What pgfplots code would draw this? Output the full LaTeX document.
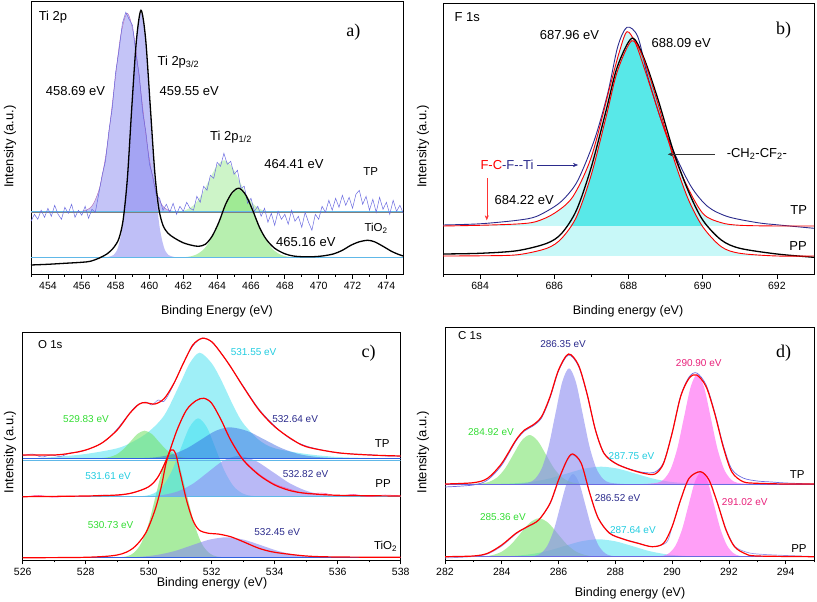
\documentclass[border=0pt]{standalone}
\usepackage{fontspec}
\setmainfont{Liberation Sans}
\newfontfamily\serifpanel{Liberation Serif}
\usepackage{pgfplots}
\pgfplotsset{compat=1.18}
\usetikzlibrary{arrows.meta}

\definecolor{tpline}{HTML}{6A6AE0}
\definecolor{lav}{HTML}{8A8AF0}
\definecolor{grn}{HTML}{70E060}
\definecolor{navy2}{HTML}{2B2B8C}
\definecolor{cyl}{HTML}{C8F8F8}
\definecolor{cys}{HTML}{58E8E8}
\definecolor{lblgreen}{HTML}{33DD33}
\definecolor{lblcyan}{HTML}{22CCE0}
\definecolor{lblpink}{HTML}{E8207A}
\definecolor{pinkfill}{HTML}{FF50F0}
\definecolor{cyanfill}{HTML}{40E0F0}
\definecolor{bluefill}{HTML}{3060E0}
\definecolor{basecyan}{HTML}{60B8E8}

\newcommand{\fL}{\fontsize{13}{15}\selectfont}
\newcommand{\fM}{\fontsize{11.5}{13}\selectfont}
\newcommand{\fS}{\fontsize{10}{12}\selectfont}
\newcommand{\fP}{\fontsize{18}{20}\selectfont\serifpanel}

\pgfplotsset{
  xps/.style={
    scale only axis, anchor=south west, no markers,
    ytick=\empty, xtick distance=2, minor x tick num=1,
    tick align=outside, xtick pos=bottom,
    major tick length=4.5pt, minor tick length=2.5pt,
    tick style={black, line width=0.7pt},
    axis line style={line width=0.8pt},
    ticklabel style={font=\fontsize{10.5}{12}\selectfont},
    /pgf/number format/assume math mode=true,
    every axis plot/.append style={smooth},
  },
}

\begin{document}
\begin{tikzpicture}
\useasboundingbox (0pt,0pt) rectangle (817pt,602pt);

% ---------- a) Ti 2p ----------
\begin{axis}[xps, at={(31pt,327.7pt)}, width=372.3pt, height=272.6pt,
  xmin=453, xmax=475, ymin=0, ymax=272.6]
% TiO2 components
\addplot[fill=lav, fill opacity=0.55, draw=none] coordinates {(457.34,16.7)(457.88,19.3)(458.15,27.4)(458.42,49.7)(458.69,96.2)(458.96,165.2)(459.23,232.8)(459.5,261.6)(459.77,232.8)(460.04,165.2)(460.31,96.2)(460.58,49.7)(460.85,27.4)(461.12,19.3)(461.66,16.7)} -- cycle;
\addplot[fill=grn, fill opacity=0.5, draw=none] coordinates {(461.5,16.6)(462.25,17.4)(462.75,19.6)(463.25,25.8)(463.75,38.7)(464.25,57.8)(464.75,76.6)(465.25,84.6)(465.75,76.6)(466.25,57.8)(466.75,38.7)(467.25,25.8)(467.75,19.6)(468.25,17.4)(469.0,16.6)} -- cycle;
% TP components
\addplot[fill=lav, fill opacity=0.5, draw=violet!60, thin] coordinates {(455.49,62)(456.29,64.2)(456.69,70.7)(457.09,88.9)(457.49,126.6)(457.89,182.7)(458.29,237.6)(458.69,261)(459.09,237.6)(459.49,182.7)(459.89,126.6)(460.29,88.9)(460.69,70.7)(461.09,64.2)(461.89,62)} -- cycle;
\addplot[fill=grn, fill opacity=0.35, draw=none] coordinates {(460.81,62)(461.71,62.6)(462.16,64.3)(462.61,69.0)(463.06,78.9)(463.51,93.5)(463.96,107.9)(464.41,114)(464.86,107.9)(465.31,93.5)(465.76,78.9)(466.21,69.0)(466.66,64.3)(467.11,62.6)(468.01,62)} -- cycle;
% baselines
\addplot[sharp plot, gray, line width=0.9pt] coordinates {(453,62)(475,62)};
\addplot[sharp plot, basecyan, line width=0.5pt] coordinates {(453,62.8)(475,62.8)};
\addplot[sharp plot, basecyan, line width=1pt] coordinates {(453,16.6)(475,16.6)};
% TP data
\addplot[sharp plot, tpline, line width=0.5pt] coordinates {(453.0,53)(453.2,60)(453.4,55)(453.6,64)(453.8,57)(454.0,66)(454.2,58)(454.4,69)(454.6,60)(454.8,55)(455.0,67)(455.2,61)(455.4,70)(455.6,57)(455.8,64)(456.0,59)(456.2,68)(456.4,56)(456.6,65)(456.8,62)(457.0,80)(457.2,99)(457.4,113)(457.6,143)(457.8,166)(458.0,202)(458.2,224)(458.4,251)(458.6,262)(458.8,255)(459.0,249)(459.2,220)(459.4,199)(459.6,162)(459.8,141)(460.0,110)(460.2,98)(460.4,79)(460.6,76)(460.8,64)(461.0,70)(461.2,62)(461.4,71)(461.6,60)(461.8,68)(462.0,63)(462.2,72)(462.4,66)(462.6,64)(462.8,78)(463.0,72)(463.2,88)(463.4,84)(463.6,99)(463.8,96)(464.0,112)(464.2,108)(464.4,121)(464.6,110)(464.8,113)(465.0,100)(465.2,104)(465.4,86)(465.6,88)(465.8,71)(466.0,76)(466.2,63)(466.4,68)(466.6,58)(466.8,66)(467.0,52)(467.2,61)(467.4,49)(467.6,63)(467.8,55)(468.0,60)(468.2,50)(468.4,64)(468.6,53)(468.8,58)(469.0,47)(469.2,62)(469.4,52)(469.6,44)(469.8,60)(470.0,55)(470.2,68)(470.4,62)(470.6,74)(470.8,64)(471.0,76)(471.2,67)(471.4,79)(471.6,69)(471.8,77)(472.0,66)(472.2,80)(472.4,84)(472.6,70)(472.8,78)(473.0,64)(473.2,75)(473.4,62)(473.6,77)(473.8,65)(474.0,72)(474.2,60)(474.4,74)(474.6,63)(474.8,69)(475.0,61)};
% TiO2 data
\addplot[black, line width=1.3pt] coordinates {(453.0,9.3)(454.0,10)(455.0,11)(456.0,12)(456.5,13)(457.0,16)(457.5,20.5)(457.9,27)(458.2,36)(458.45,55)(458.7,97)(458.96,168)(459.23,234)(459.5,264)(459.77,236)(460.04,170)(460.31,103)(460.55,66)(460.8,49)(461.1,41)(461.5,36)(462.0,31.5)(462.5,29)(462.9,28)(463.3,30)(463.7,38)(464.1,52)(464.5,70)(464.9,82)(465.3,86)(465.7,79)(466.1,64)(466.5,47)(466.9,35)(467.4,26)(468.0,20.5)(468.5,18.3)(469.0,17.6)(469.7,17.6)(470.3,18.5)(470.9,20.5)(471.4,24)(471.9,29)(472.4,32.5)(472.9,34)(473.3,32.5)(473.8,28)(474.3,23)(474.7,20)(475.0,18.3)};
\node[anchor=west, font=\fL] at (axis cs:453.25,257.6) {Ti 2p};
\node[font=\fP] at (axis cs:472.05,242.6) {a)};
\node[anchor=west, font=\fL] at (axis cs:460.27,212.6) {Ti 2p\textsubscript{3/2}};
\node[font=\fL] at (axis cs:455.63,183.6) {458.69 eV};
\node[font=\fL] at (axis cs:462.35,183.6) {459.55 eV};
\node[font=\fL] at (axis cs:464.82,137.6) {Ti 2p\textsubscript{1/2}};
\node[font=\fL] at (axis cs:468.54,110.3) {464.41 eV};
\node[font=\fM] at (axis cs:473.08,102.6) {TP};
\node[font=\fL] at (axis cs:469.24,32.6) {465.16 eV};
\node[font=\fM] at (axis cs:473.39,46) {TiO\textsubscript{2}};
\end{axis}

% ---------- b) F 1s ----------
\begin{axis}[xps, at={(443pt,327.7pt)}, width=371pt, height=271.3pt,
  xmin=683, xmax=693, ymin=0, ymax=271.3]
\addplot[fill=cyl, draw=none] coordinates {(683,18.3)(684,18.5)(685,19.5)(685.8,26)(686.2,36)(686.6,57.6)(687,100)(687.4,158)(687.7,203)(688.09,233.6)(688.4,216)(688.8,170)(689.2,118)(689.6,76)(690,47.6)(690.5,27.6)(691,21)(692,18.3)(693,18.3)} -- cycle;
\addplot[fill=cyl, draw=none] coordinates {(683,48.3)(684,49)(685,50.3)(685.5,52.6)(686,61)(686.5,77.6)(687,117.6)(687.5,187.6)(687.75,222)(687.96,242.6)(688.2,230)(688.5,197.6)(689,141)(689.5,94.3)(690,61)(690.5,51.6)(691,49)(692,48.3)(693,48.3)} -- cycle;
\addplot[fill=cys, draw=none] coordinates {(686.43,48.3)(686.6,57.6)(687,100)(687.4,158)(687.7,203)(688.09,233.6)(688.4,216)(688.8,170)(689.2,118)(689.6,76)(689.99,48.3)} -- cycle;
% TP
\addplot[navy2, line width=0.9pt] coordinates {(683,49.3)(684,50.5)(685,54)(685.5,57.6)(686,67.6)(686.3,77)(686.64,94.3)(687.08,134.3)(687.44,181)(687.71,227.6)(687.96,247)(688.25,237.6)(688.52,197.6)(688.88,154.3)(689.24,121)(689.69,87.6)(690.14,67.6)(690.68,57.6)(691.48,51.6)(692,49.5)(693,46)};
\addplot[red, line width=0.9pt] coordinates {(683,48.3)(684,49)(685,50.3)(685.5,52.6)(686,61)(686.5,77.6)(687,117.6)(687.5,187.6)(687.75,222)(687.96,242.6)(688.2,230)(688.5,197.6)(689,141)(689.5,94.3)(690,61)(690.5,51.6)(691,49)(692,48.3)(693,48.3)};
% PP
\addplot[black, line width=1.3pt] coordinates {(683,20.3)(684,21)(685,23.6)(685.8,31)(686.2,41)(686.6,64.3)(687,107.6)(687.4,164.3)(687.7,207.6)(688.09,236)(688.4,217.6)(688.8,174.3)(689.2,124.3)(689.6,84.3)(690,54.3)(690.5,34.3)(691,26)(692,20.3)(693,17)};
\addplot[red, line width=0.9pt] coordinates {(683,18.3)(684,18.5)(685,19.5)(685.8,26)(686.2,36)(686.6,57.6)(687,100)(687.4,158)(687.7,203)(688.09,233.6)(688.4,216)(688.8,170)(689.2,118)(689.6,76)(690,47.6)(690.5,27.6)(691,21)(692,18.3)(693,18.3)};
\node[anchor=west, font=\fL] at (axis cs:683.22,257.6) {F 1s};
\node[font=\fP] at (axis cs:692.18,244.3) {b)};
\node[font=\fL] at (axis cs:686.41,239.3) {687.96 eV};
\node[font=\fL] at (axis cs:689.42,231) {688.09 eV};
\node[anchor=east, font=\fL, inner sep=1pt] at (axis cs:685.47,109.3) {{\color{red}F-C}{\color{navy2}-F-{}-Ti}};
\draw[navy2, thin, -{Stealth[length=5pt,width=4pt]}] (axis cs:685.53,109.3) -- (axis cs:686.64,109.3);
\draw[red!80, thin, -{Stealth[length=5pt,width=4pt]}] (axis cs:684.18,96) -- (axis cs:684.18,54);
\node[font=\fL] at (axis cs:685.19,74.3) {684.22 eV};
\node[font=\fL] at (axis cs:691.46,120) {-CH\textsubscript{2}-CF\textsubscript{2}-};
\draw[black!80, thin, -{Stealth[length=5pt,width=4pt]}] (axis cs:690.32,120) -- (axis cs:689.06,120);
\node[font=\fL] at (axis cs:692.59,64.3) {TP};
\node[font=\fL] at (axis cs:692.57,28.6) {PP};
\end{axis}

% ---------- c) O 1s ----------
\begin{axis}[xps, at={(22.7pt,42pt)}, width=378pt, height=228pt,
  xmin=526, xmax=538, ymin=0, ymax=228]
% TiO2
\addplot[fill=grn, fill opacity=0.6, draw=none] coordinates {(528.8,2.3)(529.28,3.5)(529.52,7.0)(529.76,16.6)(530.0,36.7)(530.24,66.6)(530.48,95.8)(530.72,108.3)(530.96,95.8)(531.2,66.6)(531.44,36.7)(531.68,16.6)(531.92,7.0)(532.16,3.5)(532.64,2.3)} -- cycle;
\addplot[fill=lav, fill opacity=0.6, draw=none] coordinates {(528.07,2.3)(529.17,2.5)(529.72,3.2)(530.27,5.1)(530.82,8.9)(531.37,14.7)(531.92,20.3)(532.47,22.7)(533.02,20.3)(533.57,14.7)(534.12,8.9)(534.67,5.1)(535.22,3.2)(535.77,2.5)(536.87,2.3)} -- cycle;
% PP
\addplot[fill=cyanfill, fill opacity=0.55, draw=none] coordinates {(529.4,63.3)(529.89,64.2)(530.17,66.7)(530.45,73.9)(530.73,88.8)(531.01,110.9)(531.29,132.5)(531.57,141.7)(531.85,132.5)(532.13,110.9)(532.41,88.8)(532.69,73.9)(532.97,66.7)(533.25,64.2)(533.8,63.3)} -- cycle;
\addplot[fill=lav, fill opacity=0.6, draw=none] coordinates {(529.04,63.3)(529.99,63.75)(530.465,65.1)(530.94,68.8)(531.415,76.5)(531.89,88.0)(532.365,99.2)(532.84,104)(533.39,99.2)(533.94,88.0)(534.49,76.5)(535.04,68.8)(535.59,65.1)(536.14,63.75)(537.24,63.3)} -- cycle;
% TP
\addplot[fill=cyanfill, fill opacity=0.5, draw=none] coordinates {(526,101.7)(526.5,102)(527,103)(528,106)(529,111.7)(529.5,118.3)(530,128.3)(530.5,145)(531,176.7)(531.3,196.7)(531.62,207.3)(532,196.7)(532.3,180)(532.7,153.3)(533,136.7)(533.5,120)(534,111.7)(535,106)(536,103)(537,102)(537.8,101.7)} -- cycle;
\addplot[fill=grn, fill opacity=0.55, draw=none] coordinates {(528.3,101.7)(528.52,102)(528.745,102.9)(528.97,105.4)(529.195,110.7)(529.42,118.4)(529.645,126.1)(529.87,129.3)(530.095,126.1)(530.32,118.4)(530.545,110.7)(530.77,105.4)(530.995,102.9)(531.22,102)(531.45,101.7)} -- cycle;
\addplot[fill=bluefill, fill opacity=0.45, draw=none] coordinates {(528.97,101.7)(529.87,102.0)(530.32,103.1)(530.77,105.9)(531.22,111.8)(531.67,120.5)(532.12,129.1)(532.57,132.7)(533.12,129.1)(533.67,120.5)(534.22,111.8)(534.77,105.9)(535.32,103.1)(535.87,102.0)(536.97,101.7)} -- cycle;
% baselines
\addplot[sharp plot, bluefill, line width=1pt] coordinates {(526,101.7)(538,101.7)};
\addplot[sharp plot, basecyan, line width=1pt] coordinates {(526,99.8)(538,99.8)};
\addplot[sharp plot, basecyan, line width=1pt] coordinates {(526,63.3)(538,63.3)};
\addplot[sharp plot, bluefill, line width=0.8pt] coordinates {(526,2.3)(538,2.3)};
% data
\addplot[tpline, line width=0.5pt] coordinates {(526,104)(526.3,106)(526.6,103)(526.9,105)(527.2,103.5)(527.5,107)(527.8,108)(528.1,111)(528.4,115)(528.7,121)(529.0,131)(529.3,143)(529.6,154)(529.9,158)(530.1,155)(530.3,160)(530.5,159)(530.8,176)(531.1,197)(531.4,214)(531.7,222)(532.0,218)(532.3,207)(532.6,193)(533.0,174)(533.5,151)(534.0,134)(534.5,121)(535,114)(535.5,110)(536,107)(536.5,106)(537,105.5)(537.5,104)(538,104)};
\addplot[magenta!70, line width=0.5pt] coordinates {(526,63)(526.5,64.5)(527,62.8)(527.5,64)(528,63.5)(528.5,65)(529,64.5)(529.5,67)(530,73)(530.3,83)(530.6,103)(530.9,130)(531.2,150)(531.5,159)(531.75,162)(532.0,157)(532.3,140)(532.6,121)(533.0,101)(533.5,86)(534.0,76)(534.5,70.5)(535.0,66)(535.5,67)(536,64)(536.5,65.5)(537,63.5)(537.5,65)(538,64)};
% envelopes
\addplot[red, line width=1.2pt] coordinates {(526,105)(527,105)(527.5,106.7)(528,110)(528.5,116.7)(529,130)(529.4,146.7)(529.7,156)(529.9,157.3)(530.2,156)(530.5,161.7)(530.8,176.7)(531.1,196.7)(531.4,215)(531.7,221.7)(532.0,218.3)(532.3,206.7)(532.6,193.3)(533.0,173.3)(533.5,150)(534.0,133.3)(534.5,121.7)(535,113.3)(536,107.3)(537,105)(538,104)};
\addplot[red, line width=1.2pt] coordinates {(526,63.3)(528,64)(529,65)(529.5,67.3)(530,73.3)(530.3,83.3)(530.6,103.3)(530.9,130)(531.2,150)(531.5,159.3)(531.75,161.7)(532.0,156.7)(532.3,140)(532.6,120)(533.0,100)(533.5,85)(534,75)(534.5,69.3)(535,66.7)(536,64.7)(538,64)};
\addplot[red, line width=1.2pt] coordinates {(526,2.3)(528,2.7)(529,5)(529.5,11.7)(529.9,26.7)(530.2,50)(530.4,73.3)(530.55,96.7)(530.7,110)(530.85,106.7)(531.0,86.7)(531.2,60)(531.4,40)(531.6,30)(531.9,26.7)(532.2,26)(532.6,23.3)(533.0,18.3)(533.5,11.7)(534,7.7)(535,4)(536,3)(538,2.7)};
\node[anchor=west, font=\fM] at (axis cs:526.38,215.7) {O 1s};
\node[font=\fP] at (axis cs:536.98,206.7) {c)};
\node[font=\fS, text=lblcyan] at (axis cs:533.33,208.3) {531.55 eV};
\node[font=\fS, text=lblgreen] at (axis cs:528.01,140.7) {529.83 eV};
\node[font=\fS, text=navy2] at (axis cs:534.65,140.7) {532.64 eV};
\node[font=\fM] at (axis cs:537.41,116) {TP};
\node[font=\fS, text=lblcyan] at (axis cs:528.71,84.3) {531.61 eV};
\node[font=\fS, text=navy2] at (axis cs:534.98,86) {532.82 eV};
\node[font=\fM] at (axis cs:537.44,76.7) {PP};
\node[font=\fS, text=lblgreen] at (axis cs:528.79,34.7) {530.73 eV};
\node[font=\fS, text=navy2] at (axis cs:534.08,28) {532.45 eV};
\node[font=\fM] at (axis cs:537.52,13.3) {TiO\textsubscript{2}};
\end{axis}

% ---------- d) C 1s ----------
\begin{axis}[xps, at={(445pt,42pt)}, width=369pt, height=233pt,
  xmin=282, xmax=295, ymin=0, ymax=233]
% PP
\addplot[fill=cyanfill, fill opacity=0.5, draw=none] coordinates {(282.6,3.3)(283.8,3.5)(284.4,4.1)(285.0,5.7)(285.6,8.9)(286.2,13.9)(286.8,18.7)(287.4,20.7)(288.0,18.7)(288.6,13.9)(289.2,8.9)(289.8,5.7)(290.4,4.1)(291.0,3.5)(292.2,3.3)} -- cycle;
\addplot[fill=grn, fill opacity=0.55, draw=none] coordinates {(282.7,3.3)(283.36,3.7)(283.685,5.0)(284.01,8.5)(284.335,15.8)(284.66,26.6)(284.985,37.2)(285.31,41.7)(285.635,37.2)(285.96,26.6)(286.285,15.8)(286.61,8.5)(286.935,5.0)(287.26,3.7)(287.91,3.3)} -- cycle;
\addplot[fill=lav, fill opacity=0.6, draw=none] coordinates {(284.71,3.3)(285.16,4.2)(285.385,6.9)(285.61,14.5)(285.835,30.2)(286.06,53.5)(286.285,76.3)(286.51,86)(286.735,76.3)(286.96,53.5)(287.185,30.2)(287.41,14.5)(287.635,6.9)(287.86,4.2)(288.31,3.3)} -- cycle;
\addplot[fill=pinkfill, fill opacity=0.55, draw=none] coordinates {(289.23,3.3)(289.68,4.2)(289.905,7.0)(290.13,14.8)(290.355,30.9)(290.58,54.9)(290.805,78.3)(291.03,88.3)(291.255,78.3)(291.48,54.9)(291.705,30.9)(291.93,14.8)(292.155,7.0)(292.38,4.2)(292.83,3.3)} -- cycle;
% TP
\addplot[fill=cyanfill, fill opacity=0.5, draw=none] coordinates {(282.7,76)(283.9,76.2)(284.5,76.8)(285.1,78.3)(285.7,81.6)(286.3,86.5)(286.9,91.3)(287.5,93.3)(288.1,91.3)(288.7,86.5)(289.3,81.6)(289.9,78.3)(290.5,76.8)(291.1,76.2)(292.3,76)} -- cycle;
\addplot[fill=grn, fill opacity=0.55, draw=none] coordinates {(282.7,76)(283.27,76.5)(283.555,78.2)(283.84,82.6)(284.125,91.9)(284.41,105.7)(284.695,119.2)(284.98,125)(285.265,119.2)(285.55,105.7)(285.835,91.9)(286.12,82.6)(286.405,78.2)(286.69,76.5)(287.26,76)} -- cycle;
\addplot[fill=lav, fill opacity=0.6, draw=none] coordinates {(284.45,76)(284.93,77.3)(285.17,81.1)(285.41,91.7)(285.65,113.6)(285.89,146.2)(286.13,178.1)(286.37,191.7)(286.61,178.1)(286.85,146.2)(287.09,113.6)(287.33,91.7)(287.57,81.1)(287.81,77.3)(288.29,76)} -- cycle;
\addplot[fill=pinkfill, fill opacity=0.55, draw=none] coordinates {(289.0,76)(289.48,77.2)(289.715,80.8)(289.95,90.9)(290.185,111.7)(290.42,142.7)(290.655,173.1)(290.89,186)(291.125,173.1)(291.36,142.7)(291.595,111.7)(291.83,90.9)(292.065,80.8)(292.3,77.2)(292.77,76)} -- cycle;
% baselines
\addplot[sharp plot, tpline, line width=0.8pt] coordinates {(282,76)(295,76)};
\addplot[sharp plot, tpline, line width=0.8pt] coordinates {(282,3.3)(295,3.3)};
% data
\addplot[tpline, line width=0.7pt] coordinates {(282,73)(283,75)(283.5,80)(284,95)(284.5,119)(284.8,129)(285.1,134)(285.4,142)(285.7,162)(286.0,189)(286.35,205)(286.7,194)(287.0,166)(287.3,130)(287.6,107)(288,97)(288.5,91)(289,87.5)(289.4,88)(289.7,97.5)(290.0,127)(290.3,164)(290.6,183)(290.87,187)(291.2,175)(291.5,148)(291.8,115)(292.1,91)(292.5,82)(293,79)(293.5,78)(294,77)(295,76)};
\addplot[tpline!70, line width=0.7pt] coordinates {(282,2)(283,3.5)(283.5,6)(284,14)(284.5,26)(284.9,33)(285.3,40)(285.7,56)(286.0,79)(286.3,99)(286.5,105)(286.8,96)(287.1,67)(287.4,42)(287.8,27)(288.3,21)(288.8,17)(289.3,13.3)(289.8,17.5)(290.0,33)(290.3,60)(290.6,82)(291.0,88)(291.3,80)(291.6,57)(291.9,31)(292.2,14)(292.6,8)(293,6)(294,4.5)(295,3.5)};
% envelopes
\addplot[red, line width=1.2pt] coordinates {(282,76)(283,77.3)(283.5,81.7)(284,96.7)(284.5,120)(284.8,130)(285.1,135)(285.4,143.3)(285.7,163.3)(286.0,190)(286.35,206)(286.7,195)(287.0,166.7)(287.3,130)(287.6,106.7)(288,96.7)(288.5,90.7)(289,86.7)(289.4,86)(289.7,96.7)(290.0,126.7)(290.3,163.3)(290.6,181.7)(290.87,185)(291.2,173.3)(291.5,146.7)(291.8,113.3)(292.1,88.3)(292.5,78.3)(293,76.7)(294,76)(295,76)};
\addplot[red, line width=1.2pt] coordinates {(282,3.3)(283,4)(283.5,6.7)(284,15)(284.5,26.7)(284.9,33.3)(285.3,40)(285.7,56.7)(286.0,80)(286.3,100)(286.5,106)(286.8,96.7)(287.1,66.7)(287.4,41.7)(287.8,26.7)(288.3,20.7)(288.8,16.7)(289.3,13.3)(289.7,16.7)(290.0,33.3)(290.3,60)(290.6,81.7)(291.0,88.3)(291.3,80)(291.6,56.7)(291.9,30)(292.2,13.3)(292.6,6)(293,4)(295,3.3)};
\node[anchor=west, font=\fM] at (axis cs:282.34,224) {C 1s};
\node[font=\fP] at (axis cs:293.93,206.7) {d)};
\node[font=\fS, text=navy2] at (axis cs:286.16,215.7) {286.35 eV};
\node[font=\fS, text=lblpink] at (axis cs:290.94,197.3) {290.90 eV};
\node[font=\fS, text=lblgreen] at (axis cs:283.62,128.3) {284.92 eV};
\node[font=\fS, text=lblcyan] at (axis cs:288.57,104.3) {287.75 eV};
\node[font=\fM] at (axis cs:294.41,85.7) {TP};
\node[font=\fS, text=navy2] at (axis cs:288.08,62.3) {286.52 eV};
\node[font=\fS, text=lblpink] at (axis cs:292.56,58.3) {291.02 eV};
\node[font=\fS, text=lblgreen] at (axis cs:284.04,42.7) {285.36 eV};
\node[font=\fS, text=lblcyan] at (axis cs:288.62,30) {287.64 eV};
\node[font=\fM] at (axis cs:294.47,11.7) {PP};
\end{axis}

% axis labels
\node[font=\fontsize{12.5}{14}\selectfont] at (217pt,290.3pt) {Binding Energy (eV)};
\node[font=\fontsize{12.5}{14}\selectfont] at (628pt,290.3pt) {Binding energy (eV)};
\node[font=\fontsize{12.5}{14}\selectfont] at (212pt,18.7pt) {Binding energy (eV)};
\node[font=\fontsize{12.5}{14}\selectfont] at (630pt,8.7pt) {Binding energy (eV)};
\node[font=\fontsize{13}{15}\selectfont, rotate=90] at (10pt,455.3pt) {Intensity (a.u.)};
\node[font=\fontsize{13}{15}\selectfont, rotate=90] at (423pt,455.3pt) {Intensity (a.u.)};
\node[font=\fontsize{13}{15}\selectfont, rotate=90] at (10pt,150pt) {Intensity (a.u.)};
\node[font=\fontsize{13}{15}\selectfont, rotate=90] at (423pt,149.7pt) {Intensity (a.u.)};
\end{tikzpicture}
\end{document}
